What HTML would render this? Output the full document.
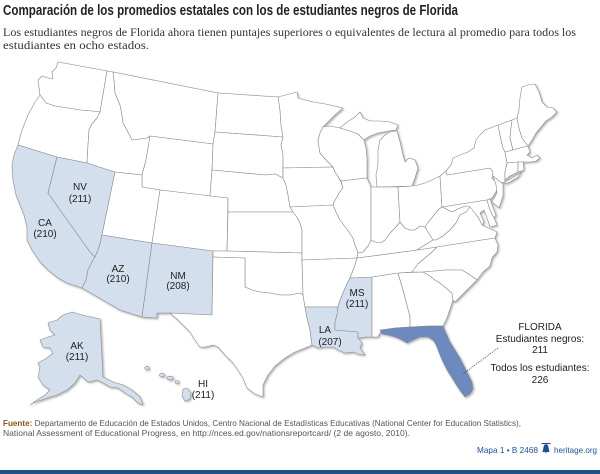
<!DOCTYPE html>
<html>
<head>
<meta charset="utf-8">
<style>
html,body{margin:0;padding:0;background:#fff;}
svg{display:block;}
</style>
</head>
<body>
<svg width="600" height="474" viewBox="0 0 600 474" xmlns="http://www.w3.org/2000/svg">
<defs>
<filter id="sh" x="-10%" y="-10%" width="120%" height="120%">
<feDropShadow dx="1.2" dy="1.2" stdDeviation="1.1" flood-color="#000" flood-opacity="0.32"/>
</filter>
</defs>
<rect width="600" height="474" fill="#fff"/>

<!-- Title -->
<text x="3" y="15" font-family="Liberation Sans, sans-serif" font-weight="bold" font-size="14.5" fill="#222" textLength="455" lengthAdjust="spacingAndGlyphs">Comparación de los promedios estatales con los de estudiantes negros de Florida</text>
<text x="3" y="36" font-family="Liberation Serif, serif" font-size="12" fill="#333" textLength="573" lengthAdjust="spacingAndGlyphs">Los estudiantes negros de Florida ahora tienen puntajes superiores o equivalentes de lectura al promedio para todos los</text>
<text x="3" y="49" font-family="Liberation Serif, serif" font-size="12" fill="#333" textLength="146" lengthAdjust="spacingAndGlyphs">estudiantes en ocho estados.</text>

<!-- Map -->
<g stroke="#8a8a8a" stroke-width="0.6" stroke-linejoin="round" fill="#fff">
<g filter="url(#sh)">
<!-- WA -->
<polygon points="58,62 107,71 100,112 92,111 80,110 68,108 55,106 46,103 40,95 39,87 38,80 42,76 48,78 53,79 52,72 56,68"/>
<!-- OR -->
<polygon points="40,95 46,103 55,106 68,108 80,110 92,111 100,112 97,118 92,124 89,130 88,145 87,163 57,157 18,145 22,130 28,115 35,102"/>
<!-- CA -->
<polygon fill="#d4dfee" points="18,145 57,157 48,193 90,252 95,257 92,262 88,270 86,280 82,288 67,283 58,278 48,270 40,262 32,250 27,240 27,227 24,215 20,205 16,195 13,180 12,165 14,155"/>
<!-- NV -->
<polygon fill="#d4dfee" points="57,157 87,163 115,172 102,235 100,244 98,250 95,257 90,252 48,193"/>
<!-- ID -->
<polygon points="107,71 113,72 114,80 115,93 120,105 122,115 123,123 128,132 132,140 140,139 147,138 150,136 146,160 142,175 115,172 87,163 88,145 89,130 92,124 97,118 100,112"/>
<!-- MT -->
<polygon points="113,72 218,93 215,132 213,144 150,136 147,138 140,139 132,140 128,132 123,123 122,115 120,105 115,93 114,80"/>
<!-- WY -->
<polygon points="150,136 213,144 212,170 210,196 160,190 142,187 142,175 146,160"/>
<!-- UT -->
<polygon points="115,172 142,175 142,187 160,190 152,243 102,235"/>
<!-- CO -->
<polygon points="160,190 228,198 227,251 213,251 152,243"/>
<!-- AZ -->
<polygon fill="#d4dfee" points="102,235 152,243 142,317 120,310 82,288 86,280 88,270 92,262 95,257 98,250 100,244"/>
<!-- NM -->
<polygon fill="#d4dfee" points="152,243 213,251 212,315 170,313 157,313 157,318 142,317"/>
<!-- ND -->
<polygon points="218,93 278,97 280,110 281,125 283,137 215,132"/>
<!-- SD -->
<polygon points="215,132 283,137 281,145 283,155 283,168 283,178 275,174 265,175 212,170 213,144"/>
<!-- NE -->
<polygon points="212,170 265,175 275,174 283,178 286,185 288,195 290,207 293,212 228,212 228,198 210,196"/>
<!-- KS -->
<polygon points="228,212 293,212 297,217 300,223 302,230 302,253 227,251"/>
<!-- OK -->
<polygon points="213,251 227,251 302,253 302,260 303,295 300,293 290,295 280,295 270,293 260,292 252,290 245,287 245,258 213,257"/>
<!-- TX -->
<polygon points="213,257 245,258 245,287 252,290 260,292 270,293 280,295 290,295 300,293 303,295 305,307 307,318 310,330 312,345 305,348 295,352 285,358 275,366 268,375 263,385 263,397 255,394 247,388 243,378 238,370 233,363 225,355 218,347 213,345 205,347 200,347 195,340 190,332 185,327 178,320 170,313 212,315"/>
<!-- MN -->
<polygon points="278,97 297,92 298,98 305,100 313,102 325,104 343,108 335,115 323,127 320,133 318,140 319,147 320,153 326,160 333,167 283,168 283,155 281,145 283,137 281,125 280,110"/>
<!-- IA -->
<polygon points="283,168 333,167 335,172 337,175 341,182 343,188 339,193 337,197 334,202 333,205 290,207 288,195 286,185 283,178"/>
<!-- MO -->
<polygon points="290,207 333,205 336,212 340,220 346,228 353,238 355,245 357,250 358,253 357,258 302,260 302,253 302,230 300,223 297,217 293,212"/>
<!-- AR -->
<polygon points="302,260 357,258 355,265 352,273 350,278 346,286 343,293 340,300 338,307 305,307 303,295"/>
<!-- LA -->
<polygon fill="#d4dfee" points="305,307 338,307 337,315 335,322 335,330 358,332 358,338 362,343 360,348 365,355 358,354 353,352 345,353 338,350 333,347 325,347 318,348 312,345 310,330 307,318"/>
<!-- MS -->
<polygon fill="#d4dfee" points="350,278 372,277 372,300 372,337 366,337 358,338 358,332 335,330 335,322 337,315 338,307 340,300 343,293 346,286"/>
<!-- AL -->
<polygon points="372,277 398,273 403,290 407,305 410,317 410,327 395,328 382,330 380,333 378,337 372,337"/>
<!-- GA -->
<polygon points="398,273 423,272 430,276 435,280 440,283 446,288 452,293 453,300 451,306 447,318 443,326 428,326 410,327 410,317 407,305 403,290"/>
<!-- FL -->
<polygon fill="#6d8abf" points="380,330 395,328 410,327 428,326 443,326 446,333 450,342 455,350 460,358 464,366 468,374 472,382 473,389 470,394 465,397 461,392 457,386 452,378 447,370 443,362 440,355 437,347 434,341 428,337 420,337 413,340 407,343 400,339 395,337 388,335 382,334"/>
<!-- TN -->
<polygon points="357,258 417,250 437,247 432,252 425,258 418,264 412,272 398,273 372,277 350,278 352,273 355,265"/>
<!-- KY -->
<polygon points="357,258 358,253 363,252 368,246 371,240 375,242 380,243 385,240 390,233 395,228 400,222 405,228 410,230 415,230 420,226 425,227 428,232 433,240 425,245 417,250"/>
<!-- WI -->
<polygon points="323,127 330,126 340,128 350,131 358,134 364,140 366,148 367,158 367,168 367,178 341,181 337,175 335,172 333,167 326,160 320,153 319,147 318,140 320,133"/>
<!-- IL -->
<polygon points="341,181 367,178 371,187 371,240 368,246 363,252 358,253 357,250 355,245 353,238 346,228 340,220 336,212 333,205 334,202 337,197 339,193 343,188"/>
<!-- IN -->
<polygon points="371,187 377,187 398,187 400,222 395,228 390,233 385,240 380,243 375,242 371,240"/>
<!-- MI lower -->
<polygon points="377,187 412,186 415,178 418,168 415,160 409,158 405,162 403,155 400,142 397,131 390,132 385,135 380,140 378,150 378,165 376,175"/>
<!-- MI UP -->
<polygon points="340,128 347,122 355,117 360,112 363,118 370,121 380,121 390,122 398,125 396,130 388,131 378,133 370,136 364,140 358,134 350,131"/>
<!-- OH -->
<polygon points="398,187 412,186 418,185 425,183 432,180 440,176 442,207 438,210 435,214 430,220 425,227 420,226 415,230 410,230 405,228 400,222"/>
<!-- PA -->
<polygon points="440,176 446,171 447,175 490,168 493,172 492,178 496,182 497,190 492,198 487,200 442,207"/>
<!-- NY -->
<polygon points="447,175 446,171 451,165 453,158 460,155 468,152 474,148 476,140 480,135 485,130 498,125 500,135 503,148 505,152 507,163 505,172 505,182 500,183 496,182 492,178 493,172 490,168"/>
<polygon points="505,182 512,178 522,172 518,177 510,182 505,184"/>
<!-- VT -->
<polygon points="498,125 512,120 511,128 510,138 513,150 505,152 503,148 500,135"/>
<!-- NH -->
<polygon points="512,120 517,118 519,128 522,138 528,146 520,148 513,150 510,138 511,128"/>
<!-- ME -->
<polygon points="517,118 519,110 520,98 522,87 528,85 535,84 539,92 542,102 547,107 553,108 557,112 552,117 546,121 541,127 536,133 532,140 528,146 522,138 519,128"/>
<!-- MA -->
<polygon points="505,152 513,150 520,148 528,146 530,152 527,155 532,158 537,155 540,158 536,161 530,162 523,162 518,162 507,163"/>
<!-- CT -->
<polygon points="507,163 518,162 518,172 510,176 505,180 505,172"/>
<!-- RI -->
<polygon points="518,162 523,162 524,170 518,172"/>
<!-- NJ -->
<polygon points="493,176 503,184 503,196 499,208 492,202 497,193 496,185"/>
<!-- MD -->
<polygon points="442,207 487,200 490,210 494,218 497,225 490,227 487,218 484,210 480,213 484,222 482,225 478,217 472,210 465,206 458,209 452,212"/>
<!-- DE -->
<polygon points="487,200 490,199 492,205 496,215 494,218 490,210"/>
<!-- WV -->
<polygon points="442,207 452,212 458,209 465,206 470,207 466,212 460,215 456,223 450,230 443,236 436,240 433,240 428,232 425,227 430,220 435,214 438,210"/>
<!-- VA -->
<polygon points="417,250 425,245 433,240 436,240 443,236 450,230 456,223 460,215 466,212 470,207 478,217 482,225 488,228 493,230 497,232 495,238 437,247"/>
<!-- NC -->
<polygon points="437,247 495,238 498,245 497,252 492,258 490,266 483,272 477,280 470,275 462,270 445,270 435,271 423,272 412,272 418,264 425,258 432,252"/>
<!-- SC -->
<polygon points="423,272 435,271 445,270 462,270 470,275 477,280 470,287 462,295 455,302 453,300 452,293 446,288 440,283 435,280 430,276"/>
</g>
<!-- AK -->
<polygon filter="url(#sh)" fill="#d4dfee" points="72,312 82,315 100,319 103,377 113,382 123,385 132,390 140,397 143,405 138,403 132,397 125,393 118,388 110,387 103,383 97,380 88,382 80,375 75,383 67,390 57,395 47,398 33,403 30,405 37,400 45,395 50,390 43,385 38,377 40,367 38,363 47,358 53,353 50,348 43,347 40,340 48,337 55,335 50,330 48,323 57,320 63,315"/>
<!-- HI -->
<g filter="url(#sh)" fill="#d4dfee">
<ellipse cx="147" cy="368" rx="2.2" ry="1.8"/>
<ellipse cx="162" cy="375" rx="2.6" ry="1.8"/>
<ellipse cx="170" cy="378" rx="3.5" ry="1.8"/>
<ellipse cx="177" cy="382" rx="2" ry="1.5"/>
<polygon points="183,389 187,388 191,393 190,399 185,401 182,396"/>
</g>
</g>

<!-- State labels -->
<g font-family="Liberation Sans, sans-serif" font-size="10" fill="#222" text-anchor="middle">
<text x="80" y="190">NV</text><text x="80" y="202">(211)</text>
<text x="45" y="226">CA</text><text x="45" y="237">(210)</text>
<text x="118" y="272">AZ</text><text x="118" y="282">(210)</text>
<text x="178" y="279">NM</text><text x="178" y="289">(208)</text>
<text x="77" y="349">AK</text><text x="77" y="360">(211)</text>
<text x="203" y="387">HI</text><text x="203" y="398">(211)</text>
<text x="357" y="296">MS</text><text x="357" y="307">(211)</text>
<text x="325" y="333">LA</text><text x="330" y="345">(207)</text>
<text x="540" y="330">FLORIDA</text>
<text x="540" y="342">Estudiantes negros:</text>
<text x="540" y="353">211</text>
<text x="540" y="371">Todos los estudiantes:</text>
<text x="540" y="383">226</text>
</g>
<line x1="498" y1="348" x2="463" y2="374" stroke="#333" stroke-width="0.8" stroke-dasharray="1,1.2"/>

<!-- Footer -->
<text x="3" y="426" font-family="Liberation Sans, sans-serif" font-size="8.5" fill="#555" textLength="518" lengthAdjust="spacingAndGlyphs"><tspan fill="#8a5514" font-weight="bold">Fuente:</tspan> Departamento de Educación de Estados Unidos, Centro Nacional de Estadísticas Educativas (National Center for Education Statistics),</text>
<text x="3" y="436" font-family="Liberation Sans, sans-serif" font-size="8.5" fill="#555" textLength="407" lengthAdjust="spacingAndGlyphs">National Assessment of Educational Progress, en http://nces.ed.gov/nationsreportcard/ (2 de agosto, 2010).</text>

<text x="477" y="453" font-family="Liberation Sans, sans-serif" font-size="8.5" fill="#1f4f8f" textLength="61" lengthAdjust="spacingAndGlyphs">Mapa 1 • B 2468</text>
<g fill="#1f4f8f">
<path d="M542.5,452 L543.5,447.5 Q543.5,444.5 546,444.2 Q548.5,444.5 548.5,447.5 L549.5,452 Z"/>
<rect x="541.5" y="443" width="9" height="1.1"/>
<rect x="545.5" y="452" width="1" height="1.3"/>
</g>
<text x="554" y="453" font-family="Liberation Sans, sans-serif" font-size="8.5" fill="#1f4f8f" textLength="43" lengthAdjust="spacingAndGlyphs">heritage.org</text>

<rect x="0" y="470" width="600" height="4" fill="#1f4f8f"/>
</svg>
</body>
</html>
